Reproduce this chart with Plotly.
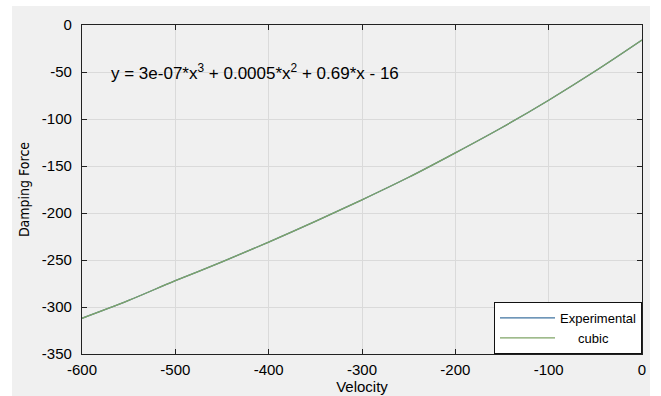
import plotly.graph_objects as go

# Velocity samples and measured damping force
velocity = [-600, -550, -500, -450, -400, -350, -300, -250, -200, -150, -100, -50, 0]
force_experimental = [-312, -293, -272, -252, -231, -209, -186, -162, -136, -109, -80, -49, -16]
# Cubic fit evaluated at the same velocities
force_cubic = [-312, -293, -272, -252, -231, -209, -186, -162, -136, -109, -80, -49, -16]

x_ticks = [-600, -500, -400, -300, -200, -100, 0]
x_tick_labels = ["-600", "-500", "-400", "-300", "-200", "-100", "0"]
y_ticks = [-350, -300, -250, -200, -150, -100, -50, 0]
y_tick_labels = ["-350", "-300", "-250", "-200", "-150", "-100", "-50", "0"]
fit_label = "y = 3e-07*x<sup>3</sup> + 0.0005*x<sup>2</sup> + 0.69*x - 16"

W, H = 661, 396
L, R, T, B = 82, 19, 25, 42
pw, ph = W - L - R, H - T - B

FONT = "Liberation Sans, Arial, sans-serif"

fig = go.Figure()
fig.add_trace(go.Scatter(
    x=velocity, y=force_experimental, mode="lines", name="Experimental",
    line=dict(color="#3f73a0", width=1.3, shape="spline"),
))
fig.add_trace(go.Scatter(
    x=velocity, y=force_cubic, mode="lines", name="     cubic",
    line=dict(color="#7fa466", width=1.3, shape="spline"),
))

axis_common = dict(
    showline=True, linecolor="#222222", linewidth=1.2, mirror="ticks",
    ticks="inside", ticklen=5, tickcolor="#222222",
    showgrid=True, gridcolor="#dadada", gridwidth=1, zeroline=False,
    tickfont=dict(family=FONT, size=15, color="#000000"),
    automargin=False,
)

fig.update_xaxes(
    range=[-600, 0], tickvals=x_ticks, ticktext=x_tick_labels,
    ticklabelstandoff=2,
    title=dict(text="Velocity", font=dict(family=FONT, size=15, color="#000000"), standoff=0),
    **axis_common,
)
fig.update_yaxes(
    range=[-350, 0], tickvals=y_ticks, ticktext=y_tick_labels,
    ticklabelstandoff=6,
    title=dict(text="Damping Force",
               font=dict(family="DejaVu Sans Condensed, Liberation Sans", size=14, color="#000000"),
               standoff=8),
    **axis_common,
)

# Light grey figure panel behind the axes
fig.add_shape(
    type="rect", xref="paper", yref="paper",
    x0=(12 - L) / pw, x1=(650 - L) / pw,
    y0=(H - B - 396) / ph, y1=(H - B - 6) / ph,
    fillcolor="#f0f0f0", line=dict(width=0), layer="below",
)

fig.add_annotation(
    x=-571, y=-50, xref="x", yref="y", text=fit_label, showarrow=False,
    xanchor="left", yanchor="middle",
    font=dict(family=FONT, size=17, color="#000000"),
)

fig.update_layout(
    width=W, height=H,
    margin=dict(l=L, r=R, t=T, b=B, autoexpand=False),
    paper_bgcolor="white", plot_bgcolor="white",
    showlegend=True,
    legend=dict(
        x=1, y=0, xanchor="right", yanchor="bottom",
        bgcolor="white", bordercolor="#111111", borderwidth=1,
        font=dict(family=FONT, size=13, color="#000000"),
        tracegroupgap=0, itemwidth=55,
    ),
)

fig.write_html("out.html")
